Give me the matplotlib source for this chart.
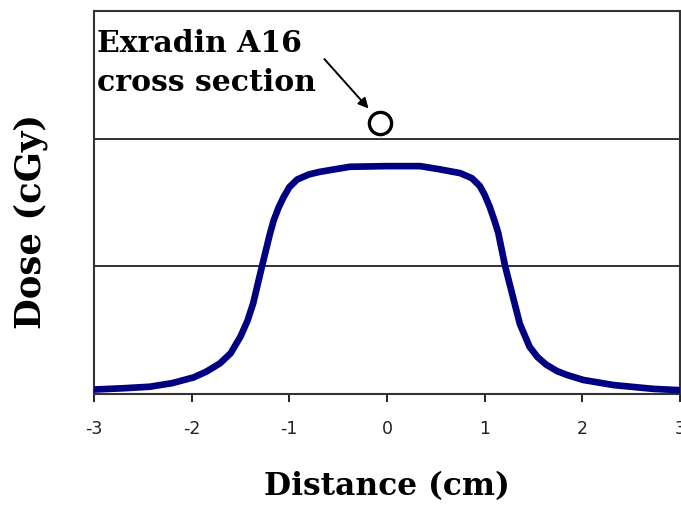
import matplotlib.pyplot as plt

# dose profile (distance in cm, dose in arbitrary grid units)
distance = [-3.0, -2.7, -2.43, -2.2, -1.98, -1.85, -1.71, -1.6, -1.5, -1.43,
            -1.37, -1.28, -1.2, -1.16, -1.11, -1.06, -1.0, -0.92, -0.8, -0.69,
            -0.38, 0.0, 0.34, 0.54, 0.75, 0.87, 0.95, 1.0, 1.05, 1.1, 1.14,
            1.21, 1.28, 1.36, 1.46, 1.54, 1.63, 1.74, 1.84, 2.01, 2.32,
            2.73, 3.0]
dose = [0.035, 0.045, 0.057, 0.085, 0.13, 0.175, 0.24, 0.32, 0.45, 0.57,
        0.71, 1.0, 1.25, 1.36, 1.46, 1.54, 1.62, 1.68, 1.72, 1.74,
        1.78, 1.785, 1.785, 1.76, 1.73, 1.69, 1.63, 1.56, 1.47, 1.36, 1.26,
        1.0, 0.79, 0.55, 0.37, 0.29, 0.23, 0.18, 0.15, 0.11, 0.07,
        0.04, 0.03]

x_ticks = [-3, -2, -1, 0, 1, 2, 3]
x_tick_labels = ["-3", "-2", "-1", "0", "1", "2", "3"]
grid_levels = [1, 2]

chamber_x = -0.07
chamber_y = 2.12

serif = ["DejaVu Serif"]

fig = plt.figure(figsize=(6.81, 5.08), dpi=100)
ax = fig.add_axes([0.138, 0.2244, 0.8605, 0.7539])

ax.plot(distance, dose, color="#000080", linewidth=4.8, solid_capstyle="butt",
        solid_joinstyle="round", zorder=3)

for level in grid_levels:
    ax.axhline(level, color="#222222", linewidth=1.3, zorder=1)

# chamber cross section marker with arrow
ax.plot([chamber_x], [chamber_y], marker="o", markersize=16, markerfacecolor="white",
        markeredgecolor="black", markeredgewidth=2.4, linestyle="none", zorder=4)
ax.annotate(
    "",
    xy=(chamber_x - 0.1, chamber_y + 0.1),
    xytext=(-0.66, 2.64),
    arrowprops=dict(arrowstyle="-|>", color="black", linewidth=1.4,
                    mutation_scale=15),
    zorder=4,
)
ax.text(-2.97, 2.86, "Exradin A16\ncross section", fontsize=21.5, fontweight="bold",
        family=serif, ha="left", va="top", linespacing=1.45)

ax.set_xlim(-3, 3)
ax.set_ylim(0, 3)
ax.set_xticks(x_ticks)
ax.set_xticklabels(x_tick_labels, family=["DejaVu Sans"], fontsize=12.5)
ax.set_yticks([])
ax.tick_params(axis="x", direction="out", length=6, width=1.4, pad=13,
               colors="#222222")

for side in ["left", "right", "top", "bottom"]:
    ax.spines[side].set_color("#333333")
    ax.spines[side].set_linewidth(1.5)

ax.set_xlabel("Distance (cm)", fontsize=22.5, fontweight="bold", family=serif)
ax.xaxis.set_label_coords(0.5, -0.2)
ax.set_ylabel("Dose (cGy)", fontsize=25.5, fontweight="bold", family=serif)
ax.yaxis.set_label_coords(-0.078, 0.45)

fig.savefig("out.png", dpi=100)
